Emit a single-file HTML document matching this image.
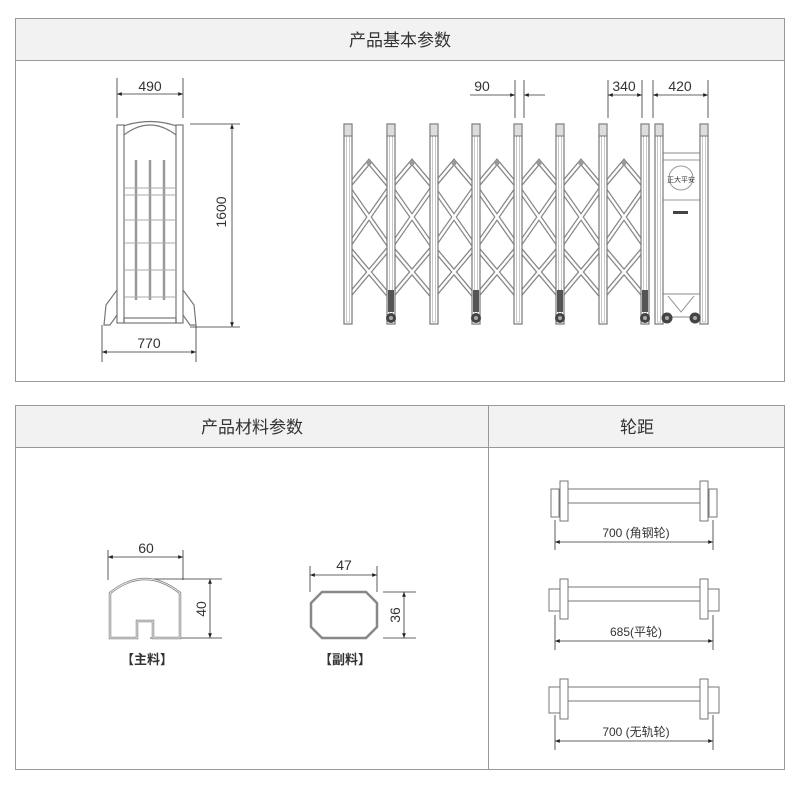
<!DOCTYPE html>
<html><head><meta charset="utf-8"><style>
body{margin:0;background:#fff;}
svg text{font-family:"Liberation Sans","Noto Sans CJK SC",sans-serif;fill:#333;}
</style></head><body>
<svg width="800" height="792" viewBox="0 0 800 792" xmlns="http://www.w3.org/2000/svg">
<defs>
<marker id="a" viewBox="0 0 10 10" refX="10" refY="5" markerWidth="7" markerHeight="6" orient="auto-start-reverse"><path d="M0,1 L10,5 L0,9 z" fill="#222"/></marker>
<g id="lat" fill="none">
<g stroke="#888" stroke-width="5"><path d="M0,187 L21,162 L42,187 M0,187 L42,247 M42,187 L0,247 M0,247 L42,297 M42,247 L0,297"/></g>
<g stroke="#fff" stroke-width="2.4"><path d="M0,187 L21,162 L42,187 M0,187 L42,247 M42,187 L0,247 M0,247 L42,297 M42,247 L0,297"/></g>
<circle cx="21" cy="163" r="2.5" fill="#999"/>
</g>
<g id="post"><rect x="-4" y="124" width="8" height="200" fill="#fff" stroke="#777" stroke-width="1.2"/><rect x="-1.5" y="126" width="3" height="196" fill="none" stroke="#bbb" stroke-width="0.8"/><rect x="-4" y="124" width="8" height="12" fill="#ddd" stroke="#777" stroke-width="1"/></g>
<g id="wh"><rect x="-3" y="290" width="6" height="22" fill="#555"/><circle cx="0" cy="318" r="5" fill="#444"/><circle cx="0" cy="318" r="2" fill="#aaa"/></g>
<g id="axle" fill="#fff" stroke="#777" stroke-width="1">
<rect x="567" y="-10" width="140" height="14"/>
<rect x="560" y="-18" width="8" height="40"/><rect x="700" y="-18" width="8" height="40"/>
</g>
</defs>

<!-- frames -->
<rect x="15.5" y="18.5" width="769" height="363" fill="#fff" stroke="#999"/>
<rect x="16" y="19" width="768" height="41" fill="#f2f2f2"/>
<line x1="15" y1="60.5" x2="785" y2="60.5" stroke="#999"/>
<text x="400" y="46" font-size="17" text-anchor="middle">产品基本参数</text>

<rect x="15.5" y="405.5" width="769" height="364" fill="#fff" stroke="#999"/>
<rect x="16" y="406" width="768" height="41" fill="#f2f2f2"/>
<line x1="15" y1="447.5" x2="785" y2="447.5" stroke="#999"/>
<line x1="488.5" y1="405" x2="488.5" y2="770" stroke="#999"/>
<text x="252" y="433" font-size="17" text-anchor="middle">产品材料参数</text>
<text x="637" y="433" font-size="17" text-anchor="middle">轮距</text>

<!-- side view -->
<g stroke="#333" stroke-width="0.8" fill="none">
<line x1="117" y1="78" x2="117" y2="118"/><line x1="183" y1="78" x2="183" y2="118"/>
<line x1="117" y1="94" x2="183" y2="94" marker-start="url(#a)" marker-end="url(#a)"/>
<line x1="102" y1="325" x2="102" y2="362"/><line x1="196" y1="325" x2="196" y2="362"/>
<line x1="102" y1="352" x2="196" y2="352" marker-start="url(#a)" marker-end="url(#a)"/>
<line x1="190" y1="124" x2="240" y2="124"/><line x1="190" y1="327" x2="240" y2="327"/>
<line x1="232" y1="124" x2="232" y2="327" marker-start="url(#a)" marker-end="url(#a)"/>
</g>
<text x="150" y="91" font-size="14" text-anchor="middle">490</text>
<text x="149" y="348" font-size="14" text-anchor="middle">770</text>
<text x="0" y="0" font-size="14" text-anchor="middle" transform="translate(226,212) rotate(-90)">1600</text>
<g fill="none" stroke="#777" stroke-width="1.2">
<path d="M118,140 Q150,110 182,140"/><path d="M118,128 Q150,115 182,128"/>
<rect x="117" y="125" width="7" height="198" fill="#fff"/><rect x="176" y="125" width="7" height="198" fill="#fff"/>
<rect x="124" y="318" width="52" height="5"/>
<path d="M117,290 L106,305 L104,325 L110,325 L117,315"/><path d="M183,290 L194,305 L196,325 L190,325 L183,315"/>
</g>
<g fill="none" stroke="#999" stroke-width="2.5">
<line x1="136" y1="160" x2="136" y2="300"/><line x1="150" y1="160" x2="150" y2="300"/><line x1="164" y1="160" x2="164" y2="300"/>
</g>
<g fill="none" stroke="#aaa" stroke-width="1">
<line x1="124" y1="188" x2="176" y2="188"/><line x1="124" y1="195" x2="176" y2="195"/><line x1="124" y1="220" x2="176" y2="220"/><line x1="124" y1="243" x2="176" y2="243"/><line x1="124" y1="270" x2="176" y2="270"/><line x1="124" y1="297" x2="176" y2="297"/>
</g>

<!-- gate front view dims -->
<g stroke="#333" stroke-width="0.8" fill="none">
<line x1="515" y1="80" x2="515" y2="118"/><line x1="524" y1="80" x2="524" y2="118"/>
<line x1="470" y1="95" x2="515" y2="95" marker-end="url(#a)"/><line x1="545" y1="95" x2="524" y2="95" marker-end="url(#a)"/>
<line x1="608" y1="80" x2="608" y2="118"/><line x1="642" y1="80" x2="642" y2="118"/>
<line x1="608" y1="95" x2="642" y2="95" marker-start="url(#a)" marker-end="url(#a)"/>
<line x1="653" y1="80" x2="653" y2="118"/><line x1="708" y1="80" x2="708" y2="118"/>
<line x1="653" y1="95" x2="708" y2="95" marker-start="url(#a)" marker-end="url(#a)"/>
</g>
<text x="482" y="91" font-size="14" text-anchor="middle">90</text>
<text x="624" y="91" font-size="14" text-anchor="middle">340</text>
<text x="680" y="91" font-size="14" text-anchor="middle">420</text>

<use href="#lat" x="348"/><use href="#lat" x="391"/><use href="#lat" x="433"/><use href="#lat" x="476"/><use href="#lat" x="518"/><use href="#lat" x="560"/><use href="#lat" x="603"/>
<use href="#post" x="348"/><use href="#post" x="391"/><use href="#post" x="434"/><use href="#post" x="476"/><use href="#post" x="518"/><use href="#post" x="560"/><use href="#post" x="603"/><use href="#post" x="645"/>
<use href="#wh" x="391"/><use href="#wh" x="476"/><use href="#wh" x="560"/><use href="#wh" x="645"/>
<!-- head unit -->
<rect x="662" y="153" width="38" height="164" fill="#fff" stroke="#888"/>
<line x1="662" y1="160" x2="700" y2="160" stroke="#999"/><line x1="662" y1="200" x2="700" y2="200" stroke="#999"/>
<circle cx="681" cy="178" r="12" fill="none" stroke="#999"/>
<text x="681" y="182" font-size="7" text-anchor="middle">正大平安</text>
<rect x="673" y="211" width="15" height="3" fill="#444"/>
<path d="M668,296 L681,312 L694,296" fill="none" stroke="#999"/>
<line x1="660" y1="294" x2="704" y2="294" stroke="#888"/>
<use href="#post" x="659"/><use href="#post" x="704"/>
<circle cx="667" cy="318" r="5.5" fill="#444"/><circle cx="695" cy="318" r="5.5" fill="#444"/>
<circle cx="667" cy="318" r="2" fill="#aaa"/><circle cx="695" cy="318" r="2" fill="#aaa"/>

<!-- materials -->
<g stroke="#333" stroke-width="0.8" fill="none">
<line x1="108" y1="550" x2="108" y2="580"/><line x1="183" y1="550" x2="183" y2="580"/>
<line x1="108" y1="557" x2="183" y2="557" marker-start="url(#a)" marker-end="url(#a)"/>
<line x1="150" y1="579" x2="222" y2="579"/><line x1="150" y1="638" x2="222" y2="638"/>
<line x1="210" y1="579" x2="210" y2="638" marker-start="url(#a)" marker-end="url(#a)"/>
<line x1="310" y1="566" x2="310" y2="592"/><line x1="377" y1="566" x2="377" y2="592"/>
<line x1="310" y1="575" x2="377" y2="575" marker-start="url(#a)" marker-end="url(#a)"/>
<line x1="383" y1="592" x2="416" y2="592"/><line x1="383" y1="638" x2="416" y2="638"/>
<line x1="404" y1="592" x2="404" y2="638" marker-start="url(#a)" marker-end="url(#a)"/>
</g>
<text x="146" y="553" font-size="14" text-anchor="middle">60</text>
<text x="0" y="0" font-size="14" text-anchor="middle" transform="translate(206,609) rotate(-90)">40</text>
<text x="344" y="570" font-size="14" text-anchor="middle">47</text>
<text x="0" y="0" font-size="14" text-anchor="middle" transform="translate(400,615) rotate(-90)">36</text>
<path d="M110,638 L110,593 Q145,565 180,593 L180,638 L153,638 L153,621 L137,621 L137,638 Z" fill="#fff" stroke="#888" stroke-width="2.5"/>
<path d="M110,638 L110,593 Q145,565 180,593 L180,638 L153,638 L153,621 L137,621 L137,638 Z" fill="none" stroke="#fff" stroke-width="0.8"/>
<path d="M322,592 L366,592 L377,603 L377,627 L366,638 L322,638 L311,627 L311,603 Z" fill="#fff" stroke="#888" stroke-width="2.5"/>
<text x="147" y="664" font-size="13" font-weight="bold" text-anchor="middle">【主料】</text>
<text x="345" y="664" font-size="13" font-weight="bold" text-anchor="middle">【副料】</text>

<!-- wheelbase -->
<g transform="translate(0,499)"><use href="#axle"/><rect x="551" y="-10" width="8" height="28" fill="#fff" stroke="#777"/><rect x="709" y="-10" width="8" height="28" fill="#fff" stroke="#777"/></g>
<g transform="translate(0,597)"><use href="#axle"/><rect x="549" y="-8" width="11" height="22" fill="#fff" stroke="#777"/><rect x="708" y="-8" width="11" height="22" fill="#fff" stroke="#777"/></g>
<g transform="translate(0,697)"><use href="#axle"/><rect x="549" y="-10" width="11" height="26" fill="#fff" stroke="#777"/><rect x="708" y="-10" width="11" height="26" fill="#fff" stroke="#777"/></g>
<g stroke="#333" stroke-width="0.8" fill="none">
<line x1="555" y1="520" x2="555" y2="550"/><line x1="713" y1="520" x2="713" y2="550"/>
<line x1="555" y1="542" x2="713" y2="542" marker-start="url(#a)" marker-end="url(#a)"/>
<line x1="555" y1="615" x2="555" y2="650"/><line x1="713" y1="615" x2="713" y2="650"/>
<line x1="555" y1="641" x2="713" y2="641" marker-start="url(#a)" marker-end="url(#a)"/>
<line x1="555" y1="715" x2="555" y2="750"/><line x1="713" y1="715" x2="713" y2="750"/>
<line x1="555" y1="741" x2="713" y2="741" marker-start="url(#a)" marker-end="url(#a)"/>
</g>
<text x="636" y="537" font-size="12" text-anchor="middle">700 (角钢轮)</text>
<text x="636" y="636" font-size="12" text-anchor="middle">685(平轮)</text>
<text x="636" y="736" font-size="12" text-anchor="middle">700 (无轨轮)</text>
</svg>
</body></html>
